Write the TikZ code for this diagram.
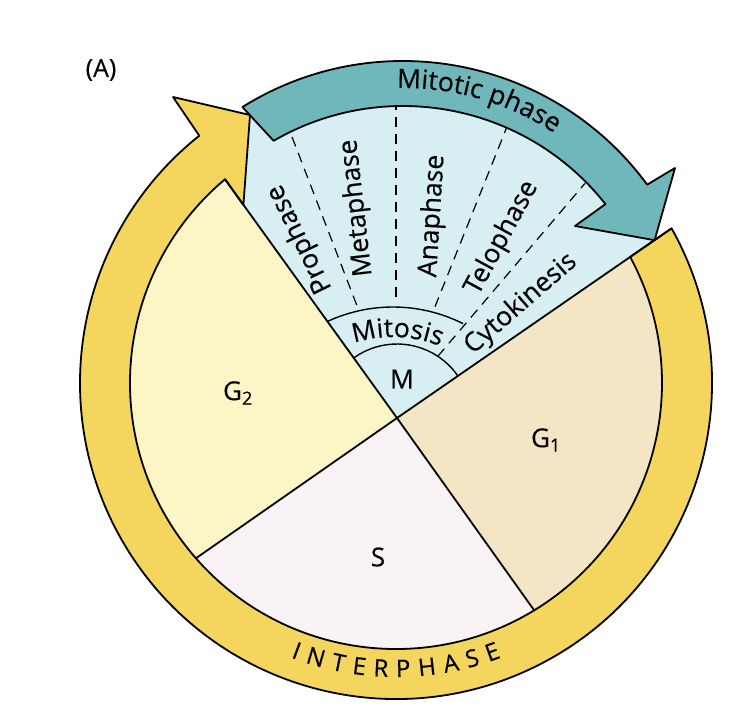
\documentclass[tikz,border=0pt]{standalone}
\usepackage{fontspec}
\setmainfont{Open Sans}[FakeBold=0.3]
\usetikzlibrary{calc,decorations.text}
\definecolor{ringY}{RGB}{244,213,94}
\definecolor{gtwo}{RGB}{252,245,198}
\definecolor{sfill}{RGB}{249,243,245}
\definecolor{gone}{RGB}{244,229,197}
\definecolor{mfill}{RGB}{215,238,242}
\definecolor{tealc}{RGB}{112,183,188}
\newcommand\labfnt{\fontsize{26.5}{30}\selectfont}
\newcommand\mitfnt{\fontsize{26.5}{30}\selectfont}
\begin{document}
\begin{tikzpicture}[x=1pt,y=1pt,
  outl/.style={line width=1.8pt, line join=round},
  thinl/.style={line width=1.4pt},
  dsh/.style={line width=1.2pt, dash pattern=on 10pt off 7pt},
  lab/.style={font=\labfnt, inner sep=0pt},
  glab/.style={font=\fontsize{26}{30}\selectfont, inner sep=0pt},
  ilab/.style={font=\fontsize{24}{28}\selectfont, inner sep=0pt, anchor=base}]
\useasboundingbox (0,0) rectangle (756,-721);
\fill[white] (0,0) rectangle (756,-721);
\coordinate (J) at (397,-418);
\coordinate (Rc) at (396,-383);
\coordinate (Tc) at (403,-364);
\coordinate (MC) at (393,-463);
\coordinate (G2apex) at ($(Rc)+(130:266)$);
\coordinate (G1corner) at ($(Rc)+(28.3:266)$);
\coordinate (Ytail) at ($(Rc)+(29.3:316)$);
\coordinate (Yknee) at (243.4,-205);
\coordinate (Ytop) at (250,-115);
\coordinate (Ytip) at (173,-97);
\coordinate (Ttip) at (654.6,-240.2);
\coordinate (Tbo) at (675,-168);
\coordinate (Tbi) at (575,-226);
\coordinate (Tti) at ($(Tc)+(120.1:258)$);
\coordinate (Tto) at ($(Tc)+(122:303)$);
\coordinate (Tni) at ($(Tc)+(38.3:258)$);
% mitotic region
\fill[mfill] (J) -- (Yknee) -- (Ytop) -- (258,-113) -- ($(Tc)+(120:280)$) arc[start angle=120, end angle=37.5, radius=280] -- (Ttip) -- cycle;
% pie wedges
\begin{scope}
\clip (Rc) circle[radius=266];
\fill[gtwo] (J) -- ($(J)+(125.8:420)$) -- ($(J)+(170:420)$) -- ($(J)+(214.9:420)$) -- cycle;
\fill[sfill] (J) -- ($(J)+(214.9:420)$) -- ($(J)+(260:420)$) -- ($(J)+(305.5:420)$) -- cycle;
\fill[gone] (J) -- ($(J)+(305.5:420)$) -- ($(J)+(350:420)$) -- ($(J)+(34.6:420)$) -- cycle;
\draw[outl] (J) -- ($(J)+(214.9:420)$);
\draw[outl] (J) -- ($(J)+(305.5:420)$);
\end{scope}
% interphase ring arrow
\filldraw[fill=ringY, outl] (G1corner) -- (Ytail) arc[start angle=29.3, end angle=-231.5, radius=316] -- (Ytip) -- (Ytop) -- (Yknee) -- (G2apex) arc[start angle=130, end angle=388.3, radius=266] -- cycle;
% mitotic phase arrow
\filldraw[fill=tealc, outl] (Tti) -- (Tto) arc[start angle=122, end angle=36.3, radius=303] -- (Tbo) -- (Ttip) -- (Tbi) -- (Tni) arc[start angle=38.3, end angle=120.1, radius=258] -- cycle;
% wedge boundaries
\draw[outl] (J) -- (G2apex);
\draw[outl] (J) -- (Ytail);
% inner arcs
\draw[thinl] ($(J)+(125.8:74)$) arc[start angle=125.8, end angle=34.6, radius=74];
\draw[thinl] ($(MC)+(115:156)$) arc[start angle=115, end angle=63.3, radius=156];
% dashed separators
\coordinate (d1a) at (356.7,-305); \coordinate (d1b) at (290,-131.7);
\coordinate (d2a) at (396,-297);   \coordinate (d2b) at (396,-106);
\coordinate (d3a) at (435,-306.7); \coordinate (d3b) at (506.6,-127.7);
\coordinate (d4a) at ($(J)+(56.5:74)$); \coordinate (d4b) at (585,-183.3);
\draw[dsh] (d1a) -- (d1b);
\draw[dsh] (d2a) -- (d2b);
\draw[dsh] (d3a) -- (d3b);
\draw[dsh] (d4a) -- (d4b);
% labels
\node[lab, rotate=116] (pro) at (300,-239) {Prophase};
\node[lab, rotate=96.5] (meta) at (357,-208) {Metaphase};
\node[lab, rotate=86.5] (ana) at (433,-216) {Anaphase};
\node[lab, rotate=61.5] (telo) at (502,-238) {Telophase};
\node[lab, rotate=41] (cyto) at (521,-304) {Cytokinesis};
\node[lab] (mlab) at (402,-379) {M};
\path[decorate, decoration={text along path, text={|\labfnt|Mitosis}, text align=center}] ($(MC)+(118:126)$) arc[start angle=118, end angle=58, radius=126];
\path[decorate, decoration={text along path, text={|\mitfnt|Mitotic phase}, text align=center}] ($(Tc)+(93:276)$) arc[start angle=93, end angle=55, radius=276];
\node[glab] (g2) at (238,-393) {G\textsubscript{2}};
\node[glab] (g1) at (546,-440) {G\textsubscript{1}};
\node[glab] (s) at (378,-557) {S};
\node[font=\fontsize{25}{30}\selectfont, inner sep=0pt] (A) at (101,-70) {(A)};
\foreach \ch/\ang [count=\k] in {I/249.67, N/253.73, T/258.42, E/262.65, R/266.99, P/271.44, H/276.22, A/281.06, S/285.46, E/289.68}
  \node[ilab, rotate=\ang+90] (ip\k) at ($(Rc)+(\ang:294)$) {\ch};
\end{tikzpicture}
\end{document}
